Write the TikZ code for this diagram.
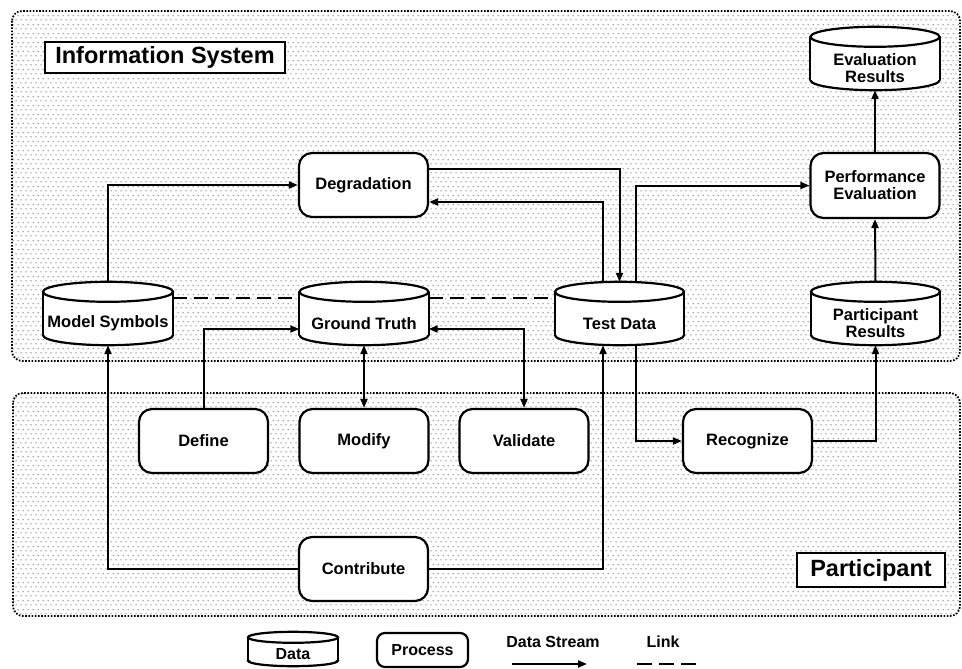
\documentclass[tikz,border=0pt]{standalone}
\usepackage{fontspec}
\setmainfont{Liberation Sans}
\usetikzlibrary{calc,arrows.meta,patterns.meta}
\pgfdeclarelayer{bg}\pgfdeclarelayer{mid}\pgfsetlayers{bg,mid,main}
\tikzdeclarepattern{name=bgdots,type=uncolored,bounding box={(0pt,0pt) and (5pt,9pt)},tile size={(5pt,9pt)},code={\fill (1.25pt,1.25pt) circle (0.6pt); \fill (3.75pt,5.75pt) circle (0.6pt);}}
\newcommand{\drawcyl}[3]{%
 \fill[white] ($(#1.north west)+(0,-#3)$) rectangle ($(#1.south east)+(0,-#3)$);
 \fill[white] ($(#1.south)+(0,-#3)$) ellipse [x radius=#2pt, y radius=#3pt];
 \begin{scope}
  \clip ($(#1.south west)+(-5,-#3)$) rectangle ($(#1.south east)+(5,10)$);
  \draw[cylline] ($(#1.south)+(0,-#3)$) ellipse [x radius=#2pt, y radius=#3pt];
 \end{scope}
 \draw[cylline] ($(#1.north west)+(0,-#3)$) -- ($(#1.south west)+(0,-#3)$);
 \draw[cylline] ($(#1.north east)+(0,-#3)$) -- ($(#1.south east)+(0,-#3)$);
 \filldraw[cylline, fill=white] ($(#1.north)+(0,-#3)$) ellipse [x radius=#2pt, y radius=#3pt];
}
\begin{document}
\begin{tikzpicture}[x=1pt,y=-1pt,
 every node/.style={font=\bfseries\fontsize{16.5}{17}\selectfont},
 proc/.style={draw, line width=2.2pt, fill=white, rounded corners=13pt, minimum width=129pt, minimum height=64pt, inner sep=0pt, align=center},
 cyl/.style={minimum width=129pt, minimum height=43pt, inner sep=0pt, align=center},
 cylline/.style={line width=2.2pt},
 conn/.style={line width=2pt},
 arr/.style={conn,-{Triangle[length=9pt,width=7pt]}},
 darr/.style={conn,{Triangle[length=9pt,width=7pt]}-{Triangle[length=9pt,width=7pt]}},
 link/.style={line width=2.2pt, dash pattern=on 14pt off 7pt},
 region/.style={pattern=bgdots, pattern color=black, draw, line width=1.8pt, dash pattern=on 1.6pt off 1.6pt, rounded corners=10pt},
 titlebox/.style={draw, fill=white, line width=2.2pt, inner sep=0pt, font=\bfseries\fontsize{23.5}{25}\selectfont},
 legtext/.style={font=\bfseries\fontsize{16}{17}\selectfont}]
\useasboundingbox (0,0) rectangle (962,669);
\begin{pgfonlayer}{bg}
\path[region] (12,11) rectangle (960,361);
\path[region] (13,393) rectangle (960,616);
\end{pgfonlayer}

\node[titlebox, minimum width=240pt, minimum height=31pt] (infotitle) at (165,57.5) {Information System};
\node[titlebox, minimum width=148pt, minimum height=34pt] (parttitle) at (871,570) {Participant};

\node[proc] (deg) at (363.5,185) {Degradation};
\node[proc, minimum height=65pt] (pe) at (875,185.5) {Performance\\Evaluation};
\node[cyl] (er) at (875,68.5) {Evaluation\\Results};
\node[cyl, minimum width=130pt] (ms) at (108,323.5) {Model Symbols};
\node[cyl] (gt) at (364,323.5) {Ground Truth};
\node[cyl] (td) at (619.5,323.5) {Test Data};
\node[cyl] (pr) at (875.5,323.5) {Participant\\Results};
\node[proc] (def) at (203.5,441) {Define};
\node[proc] (mod) at (364,441) {Modify};
\node[proc] (val) at (524,441) {Validate};
\node[proc] (rec) at (747.5,441) {Recognize};
\node[proc] (con) at (363.5,569) {Contribute};

\node[cyl, legtext, minimum width=90pt, minimum height=23pt] (ldata) at (293,654.5) {Data};
\node[proc, legtext, minimum width=91pt, minimum height=34pt, rounded corners=8pt] (lproc) at (422.5,650) {Process};
\node[legtext] (lstream) at (553,642) {Data Stream};
\node[legtext] (llink) at (663,642) {Link};

\begin{pgfonlayer}{mid}
\drawcyl{er}{64.5}{10}
\drawcyl{ms}{65}{10}
\drawcyl{gt}{64.5}{10}
\drawcyl{td}{64.5}{10}
\drawcyl{pr}{64.5}{10}
\drawcyl{ldata}{45}{5.5}
\end{pgfonlayer}

\draw[arr] ($(ms.north)+(0,-20)$) |- (deg.west);
\draw[arr] ($(deg.east)+(0,-16)$) -| ($(td.north)+(0,-20)$);
\draw[arr] ($(td.north)+(-16.5,-19.7)$) |- ($(deg.east)+(0,17)$);
\draw[arr] ($(td.north)+(16,-19.7)$) |- (pe.west);
\draw[arr] ($(pr.north)+(0,-20)$) -- (pe.south);
\draw[arr] (pe.north) -- (er.south);

\draw[link] ($(ms.north east)+(0,-4)$) -- ($(gt.north west)+(0,-4)$);
\draw[link] ($(gt.north east)+(0,-4)$) -- ($(td.north west)+(0,-4)$);

\draw[arr] (def.north) |- ($(gt.west)+(0,5.5)$);
\draw[darr] (gt.south) -- (mod.north);
\draw[darr] ($(gt.east)+(0,5.5)$) -| (val.north);
\draw[arr] (con.west) -| (ms.south);
\draw[arr] (con.east) -| ($(td.south)+(-16.5,0)$);
\draw[arr] ($(td.south)+(16.5,0)$) |- (rec.west);
\draw[arr] (rec.east) -| (pr.south);

\coordinate (ls1) at (512,664);
\coordinate (ls2) at (587,664);
\draw[arr] (ls1) -- (ls2);
\coordinate (ll1) at (637,664);
\coordinate (ll2) at (697,664);
\draw[line width=2.5pt, dash pattern=on 15pt off 7pt] (ll1) -- (ll2);
\end{tikzpicture}
\end{document}
